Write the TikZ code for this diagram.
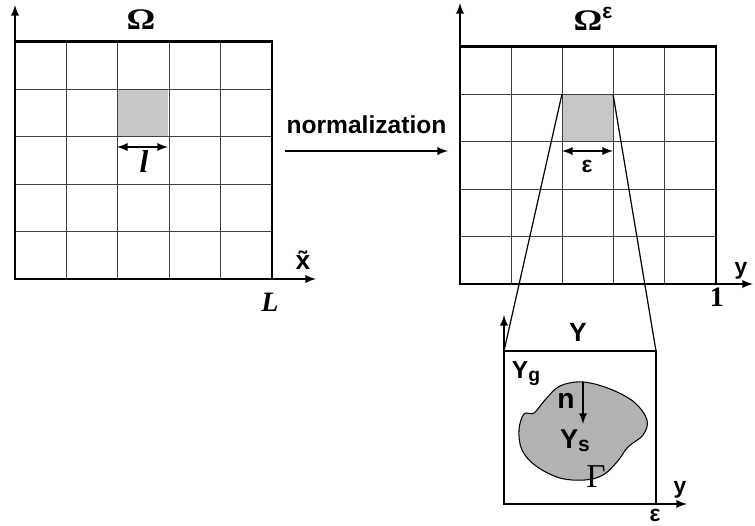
\documentclass[tikz,border=0pt]{standalone}
\usepackage{fontspec}
\setmainfont{Liberation Sans}
\newfontfamily\tnr{Liberation Serif}
\usetikzlibrary{arrows}
\newcommand{\lowidx}[2]{\raisebox{-1.7pt}{\fontsize{#1}{#1}\selectfont #2}}

\begin{document}
\begin{tikzpicture}[x=0.02cm,y=-0.02cm,
    box/.style={line width=1.7pt},
    cell/.style={black!75,line width=0.5pt},
    axis/.style={-latex,line width=1.1pt},
    lab/.style={inner sep=0pt,font=\fontsize{13}{13}\bfseries\selectfont}]
    \useasboundingbox (0,0) rectangle (755,526);

    % domain Omega
    \fill[black!22] (117,89) rectangle (168,137);
    \foreach \i in {1,...,4} {
        \draw[cell] (15+\i*51.4,42) -- (15+\i*51.4,279);
        \draw[cell] (15,42+\i*47.4) -- (272,42+\i*47.4);
    }
    \draw[box] (15,42) rectangle (272,279);
    \coordinate (o1) at (15,279);
    \coordinate (xt) at (316,279);
    \coordinate (yt) at (15,5);
    \draw[axis] (o1) -- (xt);
    \draw[axis] (o1) -- (yt);
    \node[lab] (om) at (141,20) {\fontsize{17}{17}\selectfont\tnr\bfseries\scalebox{1.2}[1]{Ω}};
    \node[lab] (xlab) at (303,260) {\fontsize{15}{15}\selectfont\~{x}};
    \node[lab] (Llab) at (270,302) {\fontsize{16}{16}\selectfont\tnr\bfseries\itshape L};
    \coordinate (la) at (117,147);
    \coordinate (lb) at (168,147);
    \draw[latex-latex,line width=1.1pt] (la) -- (lb);
    \node[lab] (llab) at (144,162) {\fontsize{18}{18}\selectfont\tnr\bfseries\itshape l};

    % normalization
    \coordinate (na) at (285,151);
    \coordinate (nb) at (448,151);
    \draw[-latex,line width=1.1pt] (na) -- (nb)
        node[midway,above=6pt,font=\fontsize{14}{14}\bfseries\selectfont] (norm) {normalization};

    % domain Omega^eps
    \fill[black!22] (562,94) rectangle (613,141);
    \foreach \i in {1,...,4} {
        \draw[cell] (460+\i*51.2,47) -- (460+\i*51.2,284);
        \draw[cell] (460,47+\i*47.4) -- (716,47+\i*47.4);
    }
    \draw[box] (460,47) rectangle (716,284);
    \coordinate (o2) at (460,284);
    \coordinate (yr) at (753,284);
    \coordinate (yu) at (460,3);
    \draw[axis] (o2) -- (yr);
    \draw[axis] (o2) -- (yu);
    \node[lab] (omeps) at (593,19) {\fontsize{17}{17}\selectfont{\tnr\bfseries\scalebox{1.2}[1]{Ω}}\raisebox{0.8ex}{\fontsize{12}{12}\selectfont ε}};
    \node[lab] (ylab1) at (741,271) {y};
    \node[lab] (one) at (717,297) {\fontsize{16}{16}\selectfont\tnr\bfseries 1};
    \coordinate (ea) at (562,151);
    \coordinate (eb) at (613,151);
    \draw[latex-latex,line width=1.1pt] (ea) -- (eb);
    \node[lab] (elab) at (587,166) {ε};

    % cell Y
    \coordinate (c1) at (562,94);
    \coordinate (c2) at (613,94);
    \coordinate (y1) at (504,351);
    \coordinate (y2) at (656,351);
    \draw[line width=0.7pt] (c1) -- (y1);
    \draw[line width=0.7pt] (c2) -- (y2);
    \draw[box] (504,351) rectangle (656,504);
    \coordinate (o3) at (504,504);
    \coordinate (yr3) at (687,504);
    \coordinate (yu3) at (504,315);
    \draw[axis] (o3) -- (yr3);
    \draw[axis] (o3) -- (yu3);
    \draw[fill=black!30,line width=0.6pt] plot[smooth cycle,tension=0.6] coordinates {
        (583,382) (610,389) (634,402) (647,420) (643,435) (628,447) (617,462)
        (603,475) (585,480) (560,478) (536,466) (522,450) (519,430) (524,414)
        (534,413) (545,400) (560,386)};
    \coordinate (nt) at (583,382);
    \coordinate (nh) at (583,424);
    \draw[-latex,line width=1.1pt] (nt) -- (nh);
    \node[lab] (Y) at (578,332) {\fontsize{15}{15}\selectfont Y};
    \node[lab] (Yg) at (526,374) {\fontsize{14}{14}\selectfont Y\lowidx{11}{g}};
    \node[lab] (n) at (566,401) {\fontsize{16}{16}\selectfont n};
    \node[lab] (Ys) at (575,441) {\fontsize{15.5}{15.5}\selectfont Y\lowidx{12}{s}};
    \node[lab] (gam) at (596,477) {\fontsize{19}{19}\selectfont\tnr\mdseries Γ};
    \node[lab] (ylab2) at (680,490) {y};
    \node[lab] (elab2) at (655,515) {ε};
\end{tikzpicture}
\end{document}
